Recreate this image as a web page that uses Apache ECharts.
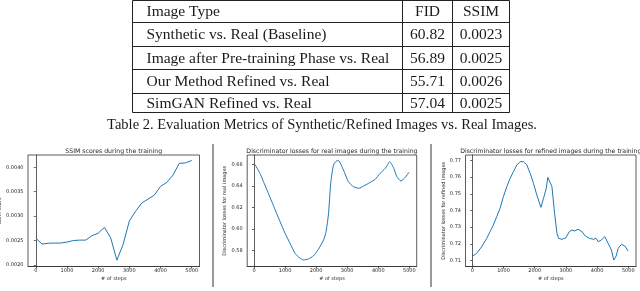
<!DOCTYPE html>
<html><head><meta charset="utf-8">
<script src="https://cdn.jsdelivr.net/npm/echarts@6/dist/echarts.min.js"></script>
<style>html,body{margin:0;padding:0;background:#fff}#c{width:640px;height:291px}</style>
</head><body><div id="c"></div>
<script>
// ---- Table data ----
const tableHeader = ['Image Type', 'FID', 'SSIM'];
const rowLabels = ['Synthetic vs. Real (Baseline)', 'Image after Pre-training Phase vs. Real', 'Our Method Refined vs. Real', 'SimGAN Refined vs. Real'];
const fidValues = ['60.82', '56.89', '55.71', '57.04'];
const ssimTableValues = ['0.0023', '0.0025', '0.0026', '0.0025'];
const captionText = 'Table 2. Evaluation Metrics of Synthetic/Refined Images vs. Real Images.';

// ---- Chart titles / labels ----
const chartTitles = ['SSIM scores during the training', 'Discriminator losses for real images during the training', 'Discriminator losses for refined images during the training'];
const yNames = ['SSIM score', 'Discriminator losses for real images', 'Discriminator losses for refined images'];
const xName = '# of steps';
const xTicks = [0, 1000, 2000, 3000, 4000, 5000];
const y1Ticks = [0.0020, 0.0025, 0.0030, 0.0035, 0.0040];
const y2Ticks = [0.58, 0.60, 0.62, 0.64, 0.66];
const y3Ticks = [0.71, 0.72, 0.73, 0.74, 0.75, 0.76, 0.77];

// ---- Series data ----
const ssimSteps = [0,200,400,600,800,1000,1200,1400,1600,1800,2000,2200,2400,2600,2800,3000,3200,3400,3600,3800,4000,4200,4400,4600,4800,5000];
const ssimValues = [0.00255,0.00243,0.002445,0.00245,0.00245,0.00247,0.00250,0.00251,0.00251,0.00260,0.00265,0.00277,0.00256,0.00210,0.00242,0.00290,0.00310,0.00327,0.00335,0.00343,0.00361,0.00369,0.00384,0.00408,0.00409,0.00414];

const realSteps = [30,190,410,620,840,1000,1160,1320,1480,1590,1750,1910,2075,2240,2320,2400,2470,2560,2670,2720,2880,3040,3200,3370,3530,3740,3900,4060,4230,4370,4500,4600,4730,4870,4990];
const realLoss = [0.660,0.6516,0.6367,0.622,0.6066,0.5958,0.5865,0.5772,0.5726,0.5710,0.5719,0.5747,0.5810,0.5896,0.5973,0.6144,0.6423,0.6594,0.6634,0.6634,0.6547,0.6438,0.6392,0.6377,0.6398,0.6432,0.6460,0.6516,0.6563,0.6624,0.6563,0.6485,0.6445,0.6479,0.6526];

const refinedSteps = [13,141,302,463,569,675,783,889,997,1106,1212,1318,1427,1533,1590,1640,1748,1854,1961,2068,2122,2199,2283,2370,2420,2466,2553,2637,2714,2765,2874,3003,3109,3196,3280,3389,3517,3624,3752,3891,3968,4032,4138,4245,4354,4460,4534,4611,4675,4781,4888,4996];
const refinedLoss = [0.7127,0.7143,0.7183,0.7233,0.7273,0.7313,0.7363,0.7413,0.7483,0.7543,0.7593,0.7633,0.7673,0.7693,0.7688,0.7693,0.7673,0.7623,0.7563,0.7493,0.7463,0.7419,0.7473,0.7533,0.7599,0.7593,0.7543,0.7383,0.7263,0.7233,0.7227,0.7237,0.7273,0.7283,0.7277,0.7287,0.7273,0.7247,0.7233,0.7227,0.7233,0.7213,0.7223,0.7243,0.7203,0.7163,0.7103,0.7127,0.7173,0.7197,0.7187,0.7157];

const zip = (a, b) => a.map((v, i) => [v, b[i]]);

// ---- Layout ----
const grids = [
  {left: 28, top: 155, width: 171.5, height: 111.5},
  {left: 247.2, top: 155, width: 169.5, height: 111.5},
  {left: 465.5, top: 155, width: 170.5, height: 111.5}
];
const xRanges = [[-250, 5250], [-219, 5238], [-218, 5247]];
const yRanges = [[0.00197, 0.004252], [0.5649, 0.6687], [0.7064, 0.7733]];
const yTickSets = [y1Ticks, y2Ticks, y3Ticks];
const yDecimals = [4, 2, 2];
const yNameGaps = [21, 18, 17.5];

const textColor = '#262626';
const axisColor = '#333';
const smallFont = 'DejaVu Sans';

const graphic = [];
// table lines
const tblL = 132.5, tblR = 509.5, colA = 402.5, colB = 452.5;
const rowYs = [0.5, 22.5, 46.5, 69.5, 93.5, 112.5];
rowYs.forEach(y => graphic.push({type: 'line', shape: {x1: tblL, y1: y, x2: tblR, y2: y}, style: {stroke: '#222', lineWidth: 1}}));
[tblL, colA, colB, tblR].forEach(x => graphic.push({type: 'line', shape: {x1: x, y1: 0.5, x2: x, y2: 112.5}, style: {stroke: '#222', lineWidth: 1}}));
const allRows = [tableHeader].concat(rowLabels.map((r, i) => [r, fidValues[i], ssimTableValues[i]]));
allRows.forEach((row, i) => {
  const cy = (rowYs[i] + rowYs[i + 1]) / 2 + 0.5;
  const tf = {fontFamily: 'Liberation Serif', fontSize: 15.5, fill: '#1a1a1a', verticalAlign: 'middle'};
  graphic.push({type: 'text', x: 146.5, y: cy, style: Object.assign({text: row[0], align: 'left'}, tf)});
  graphic.push({type: 'text', x: (colA + colB) / 2, y: cy, style: Object.assign({text: row[1], align: 'center'}, tf)});
  graphic.push({type: 'text', x: (colB + tblR) / 2, y: cy, style: Object.assign({text: row[2], align: 'center'}, tf)});
});
graphic.push({type: 'text', x: 322, y: 125.5, style: {text: captionText, fontFamily: 'Liberation Serif', fontSize: 14.5, fill: '#1a1a1a', align: 'center', verticalAlign: 'middle'}});
// separators
[213, 431].forEach(x => graphic.push({type: 'line', shape: {x1: x, y1: 144, x2: x, y2: 287}, style: {stroke: '#999', lineWidth: 2}}));
// chart titles
grids.forEach((g, i) => graphic.push({type: 'text', x: g.left + g.width / 2, y: 151, style: {text: chartTitles[i], fontFamily: smallFont, fontSize: 6.2, fill: textColor, align: 'center', verticalAlign: 'middle'}}));

const option = {
  animation: false,
  backgroundColor: '#fff',
  grid: grids.map(g => Object.assign({show: true, borderColor: axisColor, borderWidth: 0.8, containLabel: false, outerBoundsMode: 'none'}, g)),
  xAxis: grids.map((g, i) => ({
    type: 'value', gridIndex: i, min: xRanges[i][0], max: xRanges[i][1],
    name: xName, nameLocation: 'middle', nameGap: 9.5,
    nameTextStyle: {fontFamily: smallFont, fontSize: 5, color: textColor},
    axisLine: {show: true, lineStyle: {color: axisColor, width: 0.8}},
    axisTick: {show: true, length: 2, customValues: xTicks, lineStyle: {color: axisColor, width: 0.8}},
    axisLabel: {customValues: xTicks, margin: 2, fontFamily: smallFont, fontSize: 5, color: textColor, formatter: v => String(Math.round(v))},
    splitLine: {show: false}
  })),
  yAxis: grids.map((g, i) => ({
    type: 'value', gridIndex: i, min: yRanges[i][0], max: yRanges[i][1],
    name: yNames[i], nameLocation: 'middle', nameGap: yNameGaps[i],
    nameTextStyle: {fontFamily: smallFont, fontSize: 5, color: textColor},
    axisLine: {show: true, lineStyle: {color: axisColor, width: 0.8}},
    axisTick: {show: true, length: 2, customValues: yTickSets[i], lineStyle: {color: axisColor, width: 0.8}},
    axisLabel: {customValues: yTickSets[i], margin: 4.5, fontFamily: smallFont, fontSize: 5, color: textColor, formatter: v => v.toFixed(yDecimals[i])},
    splitLine: {show: false}
  })),
  series: [
    {type: 'line', xAxisIndex: 0, yAxisIndex: 0, data: zip(ssimSteps, ssimValues)},
    {type: 'line', xAxisIndex: 1, yAxisIndex: 1, data: zip(realSteps, realLoss), smooth: 0.2},
    {type: 'line', xAxisIndex: 2, yAxisIndex: 2, data: zip(refinedSteps, refinedLoss)}
  ].map(s => Object.assign({showSymbol: false, symbol: 'none', lineStyle: {color: '#1f77b4', width: 1}, itemStyle: {color: '#1f77b4'}}, s)),
  graphic: graphic
};
const chart = echarts.init(document.getElementById('c'), null, {renderer: 'canvas'});
chart.setOption(option);
</script>
</body></html>
